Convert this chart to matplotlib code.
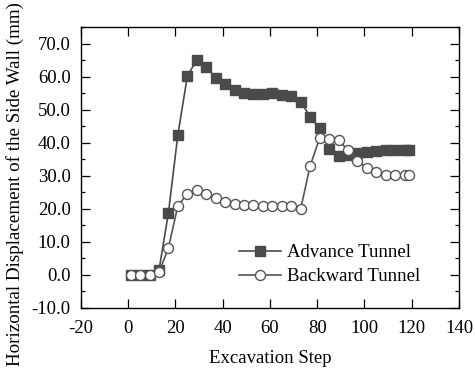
import matplotlib
matplotlib.use("Agg")
import matplotlib.pyplot as plt
from matplotlib.ticker import MultipleLocator, FormatStrFormatter

# excavation steps and side wall displacement (mm)
steps = [1, 5, 9, 13, 17, 21, 25, 29, 33, 37, 41, 45, 49, 53, 57, 61,
         65, 69, 73, 77, 81, 85, 89, 93, 97, 101, 105, 109, 113, 117, 119]
advance = [0.0, 0.0, 0.0, 1.3, 18.7, 42.4, 60.1, 65.2, 63.1, 59.7, 57.7,
           56.1, 55.2, 54.9, 54.9, 55.1, 54.6, 54.2, 52.5, 47.8, 44.4,
           38.1, 36.1, 36.4, 36.9, 37.3, 37.6, 37.7, 37.7, 37.7, 37.7]
backward = [0.0, 0.0, 0.0, 0.7, 8.1, 20.9, 24.5, 25.8, 24.6, 23.2, 22.0,
            21.5, 21.2, 21.0, 20.9, 20.9, 20.9, 20.9, 20.0, 33.0, 41.4,
            41.1, 40.9, 37.7, 34.6, 32.3, 31.0, 30.3, 30.1, 30.1, 30.1]

plt.rcParams['font.family'] = ['Liberation Serif', 'DejaVu Serif']
plt.rcParams['font.size'] = 13.5
plt.rcParams['axes.unicode_minus'] = False

fig, ax = plt.subplots(figsize=(4.75, 3.74), dpi=100)
fig.patch.set_facecolor("white")
plt.subplots_adjust(left=0.1705, right=0.9663, bottom=0.1773, top=0.927)

ax.plot(steps, advance, color="#4a4a4a", lw=1.2, marker="s", ms=7.5,
        mfc="#4a4a4a", mec="#4a4a4a", label="Advance Tunnel", zorder=2)
ax.plot(steps, backward, color="#555555", lw=1.2, marker="o", ms=7.2,
        mfc="white", mec="#555555", mew=1.0, label="Backward Tunnel", zorder=3)

ax.set_xlim(-20, 140)
ax.set_ylim(-10, 75)
ax.xaxis.set_major_locator(MultipleLocator(20))
ax.yaxis.set_major_locator(MultipleLocator(10))
ax.yaxis.set_minor_locator(MultipleLocator(5))
ax.yaxis.set_major_formatter(FormatStrFormatter("%.1f"))
ax.tick_params(which="both", direction="in", top=True, right=True, width=0.9)
ax.tick_params(which="major", length=6.5)
ax.tick_params(which="minor", length=3)
ax.tick_params(axis="x", which="major", pad=9)
ax.tick_params(axis="y", which="major", pad=7.5)
for s in ax.spines.values():
    s.set_linewidth(1.0)

ax.set_xlabel("Excavation Step", labelpad=9)
ax.set_ylabel("Horizontal Displacement of the Side Wall (mm)", fontsize=13.7)
ax.yaxis.set_label_coords(-0.151, 0.442)

ax.legend(loc="center left", bbox_to_anchor=(0.393, 0.153), frameon=False,
          borderpad=0, handlelength=2.25, handletextpad=0.3, labelspacing=0.37)

plt.savefig("out.png", dpi=100)
